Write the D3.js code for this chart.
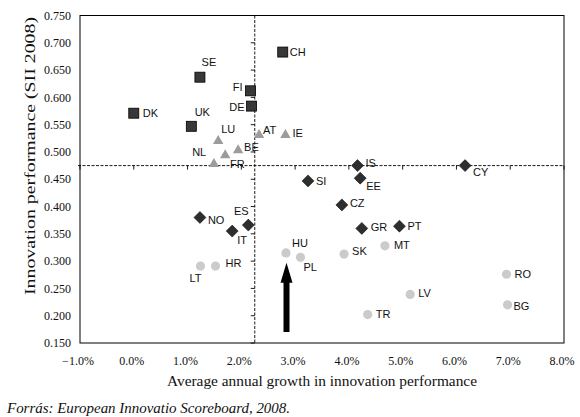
<!DOCTYPE html>
<html>
<head>
<meta charset="utf-8">
<script src="https://cdn.jsdelivr.net/npm/d3@7"></script>
<style>
  body { margin: 0; background: #fff; }
  .ticklabel { font-family: "Liberation Serif", "Times New Roman", serif; font-size: 12px; fill: #111; }
  .title { font-family: "Liberation Serif", "Times New Roman", serif; font-size: 15px; fill: #111; }
  .code { font-family: "Liberation Sans", Arial, sans-serif; font-size: 11px; fill: #111; }
</style>
</head>
<body>
<div id="chart"></div>
<script>
// leaders (squares)
const leaderCodes = ["DK", "SE", "UK", "FI", "DE", "CH"];
const leaderGrowth = [0.0, 1.23, 1.07, 2.17, 2.19, 2.77];
const leaderSII = [0.571, 0.637, 0.547, 0.612, 0.584, 0.683];

// followers (triangles)
const followerCodes = ["LU", "NL", "BE", "FR", "AT", "IE"];
const followerGrowth = [1.57, 1.70, 1.94, 1.49, 2.33, 2.82];
const followerSII = [0.522, 0.496, 0.505, 0.480, 0.533, 0.533];

// moderate innovators (diamonds)
const moderateCodes = ["IS", "CY", "SI", "EE", "CZ", "GR", "PT", "NO", "IT", "ES"];
const moderateGrowth = [4.16, 6.16, 3.24, 4.21, 3.87, 4.24, 4.94, 1.23, 1.83, 2.13];
const moderateSII = [0.475, 0.475, 0.447, 0.452, 0.403, 0.360, 0.364, 0.380, 0.355, 0.366];

// catching-up countries (circles)
const catchingCodes = ["HU", "PL", "LT", "HR", "SK", "MT", "RO", "LV", "BG", "TR"];
const catchingGrowth = [2.83, 3.10, 1.24, 1.52, 3.91, 4.67, 6.93, 5.14, 6.95, 4.35];
const catchingSII = [0.315, 0.307, 0.291, 0.291, 0.313, 0.328, 0.276, 0.239, 0.220, 0.202];

// EU averages where the axes cross
const euGrowth = 2.25;
const euSII = 0.475;

// arrow marking Hungary
const arrowGrowth = 2.84;
const arrowSII = [0.170, 0.297];

const xTicks = [-1, 0, 1, 2, 3, 4, 5, 6, 7, 8];
const yTicks = [0.15, 0.2, 0.25, 0.3, 0.35, 0.4, 0.45, 0.5, 0.55, 0.6, 0.65, 0.7, 0.75];

// label offsets: dx, dy, anchor
const labelPos = {
  DK: [9, 0, "start"], SE: [9, -15, "middle"], UK: [11, -14, "middle"], FI: [-8, -4, "end"],
  DE: [-7, 1, "end"], CH: [7, 0, "start"], LU: [3, -11, "start"], NL: [-19, -2, "end"],
  BE: [6, -2, "start"], FR: [16, 1, "start"], AT: [4, -4, "start"], IE: [7, -1, "start"],
  IS: [8, -3, "start"], CY: [8, 6, "start"], SI: [8, 0, "start"], EE: [6, 8, "start"],
  CZ: [8, -2, "start"], GR: [9, -1, "start"], PT: [8, 0, "start"], NO: [8, 3, "start"],
  IT: [5, 9, "start"], ES: [-7, -14, "middle"], HU: [6, -10, "start"], PL: [3, 10, "start"],
  LT: [-5, 12, "middle"], HR: [10, -3, "start"], SK: [8, -3, "start"], MT: [9, -1, "start"],
  RO: [8, 0, "start"], LV: [8, -1, "start"], BG: [6, 1, "start"], TR: [8, -1, "start"]
};

const width = 580, height = 417;
const plotL = 80, plotR = 564, plotT = 15.5, plotB = 343;

const svg = d3.select("#chart").append("svg")
  .attr("width", width).attr("height", height);

const x = d3.scaleLinear().domain([-1, 8]).range([plotL, plotR]);
const y = d3.scaleLinear().domain([0.15, 0.75]).range([plotB, plotT]);

// frame
svg.append("rect")
  .attr("x", plotL).attr("y", plotT)
  .attr("width", plotR - plotL).attr("height", plotB - plotT)
  .attr("fill", "none").attr("stroke", "#000").attr("stroke-width", 1);

// tick labels at the frame edges
svg.selectAll(".xl").data(xTicks).enter().append("text")
  .attr("class", "ticklabel")
  .attr("x", d => x(d) - 2).attr("y", plotB + 22)
  .attr("text-anchor", "middle")
  .text(d => (d < 0 ? "\u2212" : "") + Math.abs(d).toFixed(1) + "%");

svg.selectAll(".yl").data(yTicks).enter().append("text")
  .attr("class", "ticklabel")
  .attr("x", plotL - 9).attr("y", d => y(d))
  .attr("dy", "0.35em")
  .attr("text-anchor", "end")
  .text(d => d.toFixed(3));

// crossing axes (dashed) with their ticks
const axes = svg.append("g").attr("stroke", "#000").attr("stroke-width", 0.9);
axes.append("line")
  .attr("x1", x(euGrowth)).attr("x2", x(euGrowth))
  .attr("y1", plotT).attr("y2", plotB)
  .attr("stroke-dasharray", "3,1.5");
axes.append("line")
  .attr("x1", plotL - 2).attr("x2", plotR)
  .attr("y1", y(euSII)).attr("y2", y(euSII))
  .attr("stroke-dasharray", "3,1.5");
axes.selectAll(".yt").data(yTicks).enter().append("line")
  .attr("x1", x(euGrowth) - 4).attr("x2", x(euGrowth))
  .attr("y1", d => y(d)).attr("y2", d => y(d));
axes.selectAll(".xt").data(xTicks).enter().append("line")
  .attr("x1", d => x(d)).attr("x2", d => x(d))
  .attr("y1", y(euSII)).attr("y2", y(euSII) + 4);

// arrow
const ax = x(arrowGrowth), ay0 = y(arrowSII[0]), ay1 = y(arrowSII[1]);
svg.append("path")
  .attr("d", `M${ax - 3},${ay0} L${ax - 3},${ay1 + 20} L${ax - 6},${ay1 + 20} L${ax},${ay1} ` +
             `L${ax + 6},${ay1 + 20} L${ax + 3},${ay1 + 20} L${ax + 3},${ay0} Z`)
  .attr("fill", "#000");

function group(codes, gx, gy) {
  return codes.map((c, i) => ({ code: c, gx: gx[i], sii: gy[i] }));
}

const leaders = group(leaderCodes, leaderGrowth, leaderSII);
const followers = group(followerCodes, followerGrowth, followerSII);
const moderates = group(moderateCodes, moderateGrowth, moderateSII);
const catching = group(catchingCodes, catchingGrowth, catchingSII);

svg.selectAll(".sq").data(leaders).enter().append("rect")
  .attr("x", d => x(d.gx) - 5).attr("y", d => y(d.sii) - 5)
  .attr("width", 10).attr("height", 10)
  .attr("fill", "#383838").attr("stroke", "#000").attr("stroke-width", 0.8);

svg.selectAll(".tri").data(followers).enter().append("path")
  .attr("transform", d => `translate(${x(d.gx)},${y(d.sii)})`)
  .attr("d", "M0,-5 L5.2,4 L-5.2,4 Z")
  .attr("fill", "#9c9c9c");

svg.selectAll(".dia").data(moderates).enter().append("path")
  .attr("transform", d => `translate(${x(d.gx)},${y(d.sii)})`)
  .attr("d", "M0,-6 L6,0 L0,6 L-6,0 Z")
  .attr("fill", "#2e2e2e").attr("stroke", "#000").attr("stroke-width", 0.5);

svg.selectAll(".dot").data(catching).enter().append("circle")
  .attr("cx", d => x(d.gx)).attr("cy", d => y(d.sii))
  .attr("r", 4.6)
  .attr("fill", "#cbcbcb");

// country codes
svg.selectAll(".code").data(leaders.concat(followers, moderates, catching)).enter().append("text")
  .attr("class", "code")
  .attr("x", d => x(d.gx) + labelPos[d.code][0])
  .attr("y", d => y(d.sii) + labelPos[d.code][1])
  .attr("dy", "0.36em")
  .attr("text-anchor", d => labelPos[d.code][2])
  .text(d => d.code);

// axis titles
svg.append("text")
  .attr("class", "title")
  .attr("x", (plotL + plotR) / 2).attr("y", 386)
  .attr("text-anchor", "middle")
  .attr("textLength", 310).attr("lengthAdjust", "spacingAndGlyphs")
  .text("Average annual growth in innovation performance");

svg.append("text")
  .attr("class", "title")
  .style("font-size", "14px")
  .attr("transform", "translate(35,156) rotate(-90)")
  .attr("text-anchor", "middle")
  .attr("textLength", 278).attr("lengthAdjust", "spacingAndGlyphs")
  .text("Innovation performance (SII 2008)");

svg.append("text")
  .attr("class", "title")
  .style("font-style", "italic")
  .attr("x", 7).attr("y", 413)
  .attr("textLength", 283).attr("lengthAdjust", "spacingAndGlyphs")
  .text("Forrás: European Innovatio Scoreboard, 2008.");
</script>
</body>
</html>
